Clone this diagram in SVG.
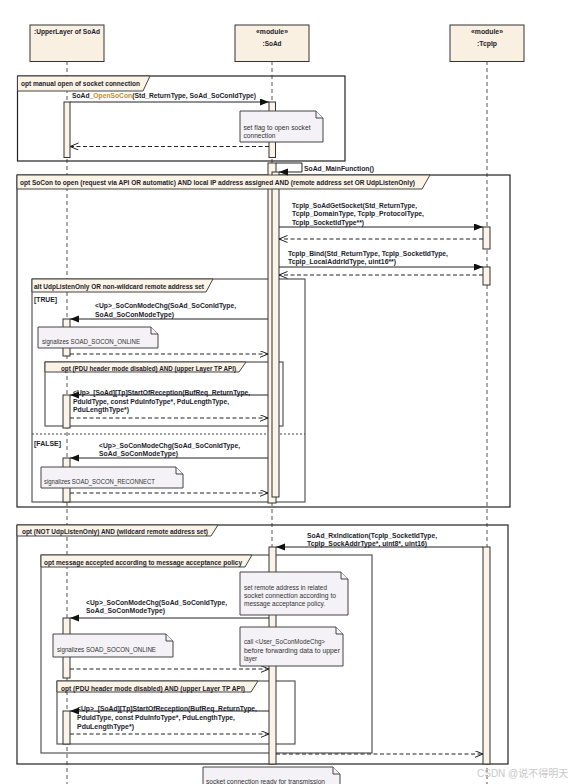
<svg xmlns="http://www.w3.org/2000/svg" width="574" height="784" viewBox="0 0 574 784">
<style>
.lbl{font-family:"Liberation Sans",Arial,sans-serif;font-size:7px;font-weight:bold;fill:#1c1c2c}
.nt{font-family:"Liberation Sans",Arial,sans-serif;font-size:6.6px;fill:#333}
.hd{fill:#f9f0e2;stroke:#333;stroke-width:1}
.life{stroke:#555;stroke-width:1;stroke-dasharray:4 3;fill:none}
.act{fill:#fbf3e7;stroke:#333;stroke-width:1}
.fr{fill:none;stroke:#222;stroke-width:1.2}
.fr2{fill:none;stroke:#555;stroke-width:1.2}
.tab{fill:#fbf3e6;stroke:#444;stroke-width:1}
.note{fill:#f4f2f6;stroke:#444;stroke-width:1}
.msg{stroke:#222;stroke-width:1;fill:none;marker-end:url(#sync)}
.ret{stroke:#222;stroke-width:1;stroke-dasharray:4 2.5;fill:none;marker-end:url(#open)}
.sep{stroke:#444;stroke-width:1;stroke-dasharray:2 2}
</style>
<defs>
<marker id="sync" markerUnits="userSpaceOnUse" markerWidth="10" markerHeight="8" refX="9" refY="3.5" orient="auto"><path d="M0,0 L9,3.5 L0,7 Z" fill="#111"/></marker>
<marker id="open" markerUnits="userSpaceOnUse" markerWidth="10" markerHeight="8" refX="8.5" refY="3.5" orient="auto"><path d="M0,0 L8.5,3.5 L0,7" fill="none" stroke="#222" stroke-width="1"/></marker>
</defs>
<rect width="574" height="784" fill="#fff"/>

<g id="upperlayer">
<line class="life" x1="67" y1="61" x2="67" y2="784"/>
<rect class="hd" x="30" y="25" width="74" height="36.5"/>
<text class="lbl" x="34" y="33.5" textLength="66" lengthAdjust="spacingAndGlyphs">:UpperLayer of SoAd</text>
</g>
<g id="soad">
<line class="life" x1="272" y1="61" x2="272" y2="784"/>
<rect class="hd" x="235" y="25" width="74" height="36.5"/>
<text class="lbl" x="272" y="33.5" text-anchor="middle" textLength="32" lengthAdjust="spacingAndGlyphs">«module»</text>
<text class="lbl" x="272" y="46" text-anchor="middle" textLength="19" lengthAdjust="spacingAndGlyphs">:SoAd</text>
</g>
<g id="tcpip">
<line class="life" x1="487" y1="61" x2="487" y2="784"/>
<rect class="hd" x="450" y="25" width="74" height="36.5"/>
<text class="lbl" x="487" y="33.5" text-anchor="middle" textLength="32" lengthAdjust="spacingAndGlyphs">«module»</text>
<text class="lbl" x="487" y="46" text-anchor="middle" textLength="20" lengthAdjust="spacingAndGlyphs">:TcpIp</text>
</g>

<g id="frame-borders">
<rect id="frame-manual-open" class="fr" x="17.5" y="76" width="327.5" height="85"/>
<rect id="frame-socon-open" class="fr" x="17" y="175" width="493" height="332"/>
<rect id="frame-alt" class="fr2" x="32" y="279" width="273" height="223"/>
<line class="sep" x1="32" y1="434" x2="305" y2="434"/>
<rect id="frame-pdu-1" class="fr2" x="45" y="362" width="238" height="64"/>
<rect id="frame-wildcard" class="fr" x="17" y="525" width="491" height="239"/>
<rect id="frame-accepted" class="fr2" x="41" y="555" width="331" height="198"/>
<rect id="frame-pdu-2" class="fr2" x="57" y="681" width="238" height="63"/>
</g>

<g id="activations">
<rect class="act" x="64" y="102" width="6" height="55.5"/>
<rect class="act" x="269" y="102" width="6.5" height="55.5"/>
<rect class="act" x="268" y="163" width="8" height="340"/>
<rect class="act" x="272" y="172" width="7" height="325"/>
<rect class="act" x="483" y="227" width="7" height="22"/>
<rect class="act" x="483" y="267" width="7" height="18"/>
<rect class="act" x="63" y="319" width="7" height="37"/>
<rect class="act" x="63" y="395" width="7" height="33"/>
<rect class="act" x="63" y="458" width="7" height="44"/>
<rect class="act" x="269" y="547" width="7" height="217"/>
<rect class="act" x="483" y="547" width="7" height="217"/>
<rect class="act" x="63" y="618" width="7" height="60"/>
<rect class="act" x="63" y="711" width="7" height="33"/>
</g>

<g id="frame-labels">
<path class="tab" d="M17.5,76 H150 L143,91 H17.5 Z"/>
<text class="lbl" x="21" y="86" textLength="119" lengthAdjust="spacingAndGlyphs">opt manual open of socket connection</text>
<path class="tab" d="M17,175 H430 L422,189 H17 Z"/>
<text class="lbl" x="20" y="185" textLength="395" lengthAdjust="spacingAndGlyphs">opt SoCon to open (request via API OR automatic) AND local IP address assigned AND (remote address set OR UdpListenOnly)</text>
<path class="tab" d="M32,279 H213 L206,292 H32 Z"/>
<text class="lbl" x="34" y="288.5" textLength="170" lengthAdjust="spacingAndGlyphs">alt UdpListenOnly OR non-wildcard remote address set</text>
<text class="lbl" x="34" y="301.5" textLength="23" lengthAdjust="spacingAndGlyphs">[TRUE]</text>
<text class="lbl" x="34" y="445.5" textLength="27" lengthAdjust="spacingAndGlyphs">[FALSE]</text>
<path class="tab" d="M45,362 H246 L239,372 H45 Z"/>
<text class="lbl" x="61" y="370.5" textLength="175" lengthAdjust="spacingAndGlyphs">opt (PDU header mode disabled) AND (upper Layer TP API)</text>
<path class="tab" d="M17,525 H218 L211,536 H17 Z"/>
<text class="lbl" x="22" y="533.5" textLength="186" lengthAdjust="spacingAndGlyphs">opt (NOT UdpListenOnly) AND (wildcard remote address set)</text>
<path class="tab" d="M41,555 H252 L245,567 H41 Z"/>
<text class="lbl" x="44" y="564.5" textLength="198" lengthAdjust="spacingAndGlyphs">opt message accepted according to message acceptance policy</text>
<path class="tab" d="M57,681 H258 L251,692 H57 Z"/>
<text class="lbl" x="61" y="690.5" textLength="184" lengthAdjust="spacingAndGlyphs">opt (PDU header mode disabled) AND (upper Layer TP API)</text>
</g>

<g id="connectors">
<line class="msg" x1="70" y1="102" x2="269" y2="102"/>
<text class="lbl" x="72" y="98" textLength="184" lengthAdjust="spacingAndGlyphs">SoAd_<tspan fill="#c98a1c">OpenSoCon</tspan>(Std_ReturnType, SoAd_SoConIdType)</text>
<line class="ret" x1="269" y1="146.5" x2="70" y2="146.5"/>

<path class="msg" d="M276,163 H302 V172 H279"/>
<text class="lbl" x="304" y="170.5" textLength="70" lengthAdjust="spacingAndGlyphs">SoAd_MainFunction()</text>

<line class="msg" x1="279" y1="227" x2="483" y2="227"/>
<text class="lbl" x="292" y="207.5" textLength="125" lengthAdjust="spacingAndGlyphs">TcpIp_SoAdGetSocket(Std_ReturnType,</text>
<text class="lbl" x="292" y="215.5" textLength="132" lengthAdjust="spacingAndGlyphs">TcpIp_DomainType, TcpIp_ProtocolType,</text>
<text class="lbl" x="292" y="224.5" textLength="72" lengthAdjust="spacingAndGlyphs">TcpIp_SocketIdType**)</text>
<line class="ret" x1="483" y1="239" x2="279" y2="239"/>

<line class="msg" x1="279" y1="267" x2="483" y2="267"/>
<text class="lbl" x="288" y="255.5" textLength="160" lengthAdjust="spacingAndGlyphs">TcpIp_Bind(Std_ReturnType, TcpIp_SocketIdType,</text>
<text class="lbl" x="288" y="263.5" textLength="108" lengthAdjust="spacingAndGlyphs">TcpIp_LocalAddrIdType, uint16**)</text>
<line class="ret" x1="483" y1="275" x2="279" y2="275"/>

<line class="msg" x1="268" y1="319" x2="70" y2="319"/>
<text class="lbl" x="95" y="307.5" textLength="141" lengthAdjust="spacingAndGlyphs">&lt;Up&gt;_SoConModeChg(SoAd_SoConIdType,</text>
<text class="lbl" x="95" y="316.5" textLength="79" lengthAdjust="spacingAndGlyphs">SoAd_SoConModeType)</text>
<line class="ret" x1="70" y1="354" x2="268" y2="354"/>

<line class="msg" x1="268" y1="395" x2="70" y2="395"/>
<text class="lbl" x="73" y="394.5" textLength="177" lengthAdjust="spacingAndGlyphs">&lt;Up&gt;_[SoAd][Tp]StartOfReception(BufReq_ReturnType,</text>
<text class="lbl" x="73" y="403.5" textLength="156" lengthAdjust="spacingAndGlyphs">PduIdType, const PduInfoType*, PduLengthType,</text>
<text class="lbl" x="73" y="411.5" textLength="56" lengthAdjust="spacingAndGlyphs">PduLengthType*)</text>
<line class="ret" x1="70" y1="418" x2="268" y2="418"/>

<line class="msg" x1="268" y1="458" x2="70" y2="458"/>
<text class="lbl" x="99" y="447.5" textLength="141" lengthAdjust="spacingAndGlyphs">&lt;Up&gt;_SoConModeChg(SoAd_SoConIdType,</text>
<text class="lbl" x="99" y="455.5" textLength="79" lengthAdjust="spacingAndGlyphs">SoAd_SoConModeType)</text>
<line class="ret" x1="70" y1="493" x2="268" y2="493"/>

<line class="msg" x1="483" y1="547" x2="276" y2="547"/>
<text class="lbl" x="307" y="537.5" textLength="130" lengthAdjust="spacingAndGlyphs">SoAd_RxIndication(TcpIp_SocketIdType,</text>
<text class="lbl" x="307" y="545.5" textLength="120" lengthAdjust="spacingAndGlyphs">TcpIp_SockAddrType*, uint8*, uint16)</text>

<line class="msg" x1="269" y1="618" x2="70" y2="618"/>
<text class="lbl" x="86" y="604.5" textLength="141" lengthAdjust="spacingAndGlyphs">&lt;Up&gt;_SoConModeChg(SoAd_SoConIdType,</text>
<text class="lbl" x="86" y="612.5" textLength="79" lengthAdjust="spacingAndGlyphs">SoAd_SoConModeType)</text>
<line class="ret" x1="70" y1="669" x2="269" y2="669"/>

<line class="msg" x1="269" y1="711" x2="70" y2="711"/>
<text class="lbl" x="77" y="710.5" textLength="180" lengthAdjust="spacingAndGlyphs">&lt;Up&gt;_[SoAd][Tp]StartOfReception(BufReq_ReturnType,</text>
<text class="lbl" x="77" y="719.5" textLength="158" lengthAdjust="spacingAndGlyphs">PduIdType, const PduInfoType*, PduLengthType,</text>
<text class="lbl" x="77" y="728.5" textLength="57" lengthAdjust="spacingAndGlyphs">PduLengthType*)</text>
<line class="ret" x1="70" y1="734" x2="269" y2="734"/>

<line class="ret" x1="276" y1="754" x2="483" y2="754"/>
</g>

<g id="note-set-flag">
<path class="note" d="M240,111 H316 L323,118 V142 H240 Z"/>
<path class="note" d="M316,111 V118 H323"/>
<text class="nt" x="243.5" y="130" textLength="67" lengthAdjust="spacingAndGlyphs">set flag to open socket</text>
<text class="nt" x="243.5" y="138" textLength="32" lengthAdjust="spacingAndGlyphs">connection</text>
</g>
<g id="note-online-1">
<path class="note" d="M38,327 H151 L158,334 V348 H38 Z"/>
<path class="note" d="M151,327 V334 H158"/>
<text class="nt" x="42" y="344" textLength="98" lengthAdjust="spacingAndGlyphs">signalizes SOAD_SOCON_ONLINE</text>
</g>
<g id="note-reconnect">
<path class="note" d="M41,467 H176 L183,474 V488 H41 Z"/>
<path class="note" d="M176,467 V474 H183"/>
<text class="nt" x="44" y="484" textLength="111" lengthAdjust="spacingAndGlyphs">signalizes SOAD_SOCON_RECONNECT</text>
</g>
<g id="note-remote-address">
<path class="note" d="M240,572 H341 L348,579 V615 H240 Z"/>
<path class="note" d="M341,572 V579 H348"/>
<text class="nt" x="244" y="589.5" textLength="83" lengthAdjust="spacingAndGlyphs">set remote address in related</text>
<text class="nt" x="244" y="597.5" textLength="92" lengthAdjust="spacingAndGlyphs">socket connection according to</text>
<text class="nt" x="244" y="605.5" textLength="81" lengthAdjust="spacingAndGlyphs">message acceptance policy.</text>
</g>
<g id="note-call-user">
<path class="note" d="M240,627 H336 L343,634 V666 H240 Z"/>
<path class="note" d="M336,627 V634 H343"/>
<text class="nt" x="244" y="643.5" textLength="81" lengthAdjust="spacingAndGlyphs">call &lt;User_SoConModeChg&gt;</text>
<text class="nt" x="244" y="652.5" textLength="96" lengthAdjust="spacingAndGlyphs">before forwarding data to upper</text>
<text class="nt" x="244" y="660.5" textLength="13" lengthAdjust="spacingAndGlyphs">layer</text>
</g>
<g id="note-online-2">
<path class="note" d="M53,634 H166 L173,641 V657 H53 Z"/>
<path class="note" d="M166,634 V641 H173"/>
<text class="nt" x="57" y="651.5" textLength="99" lengthAdjust="spacingAndGlyphs">signalizes SOAD_SOCON_ONLINE</text>
</g>
<g id="note-ready">
<path class="note" d="M203,767 H333 L340,774 V790 H203 Z"/>
<path class="note" d="M333,767 V774 H340"/>
<text class="nt" x="206" y="783.5" textLength="119" lengthAdjust="spacingAndGlyphs">socket connection ready for transmission</text>
</g>
<text x="477" y="777" font-family="'Liberation Sans','Noto Sans CJK SC',sans-serif" font-size="10" fill="#c8c8c8">CSDN @说不得明天</text>
</svg>
